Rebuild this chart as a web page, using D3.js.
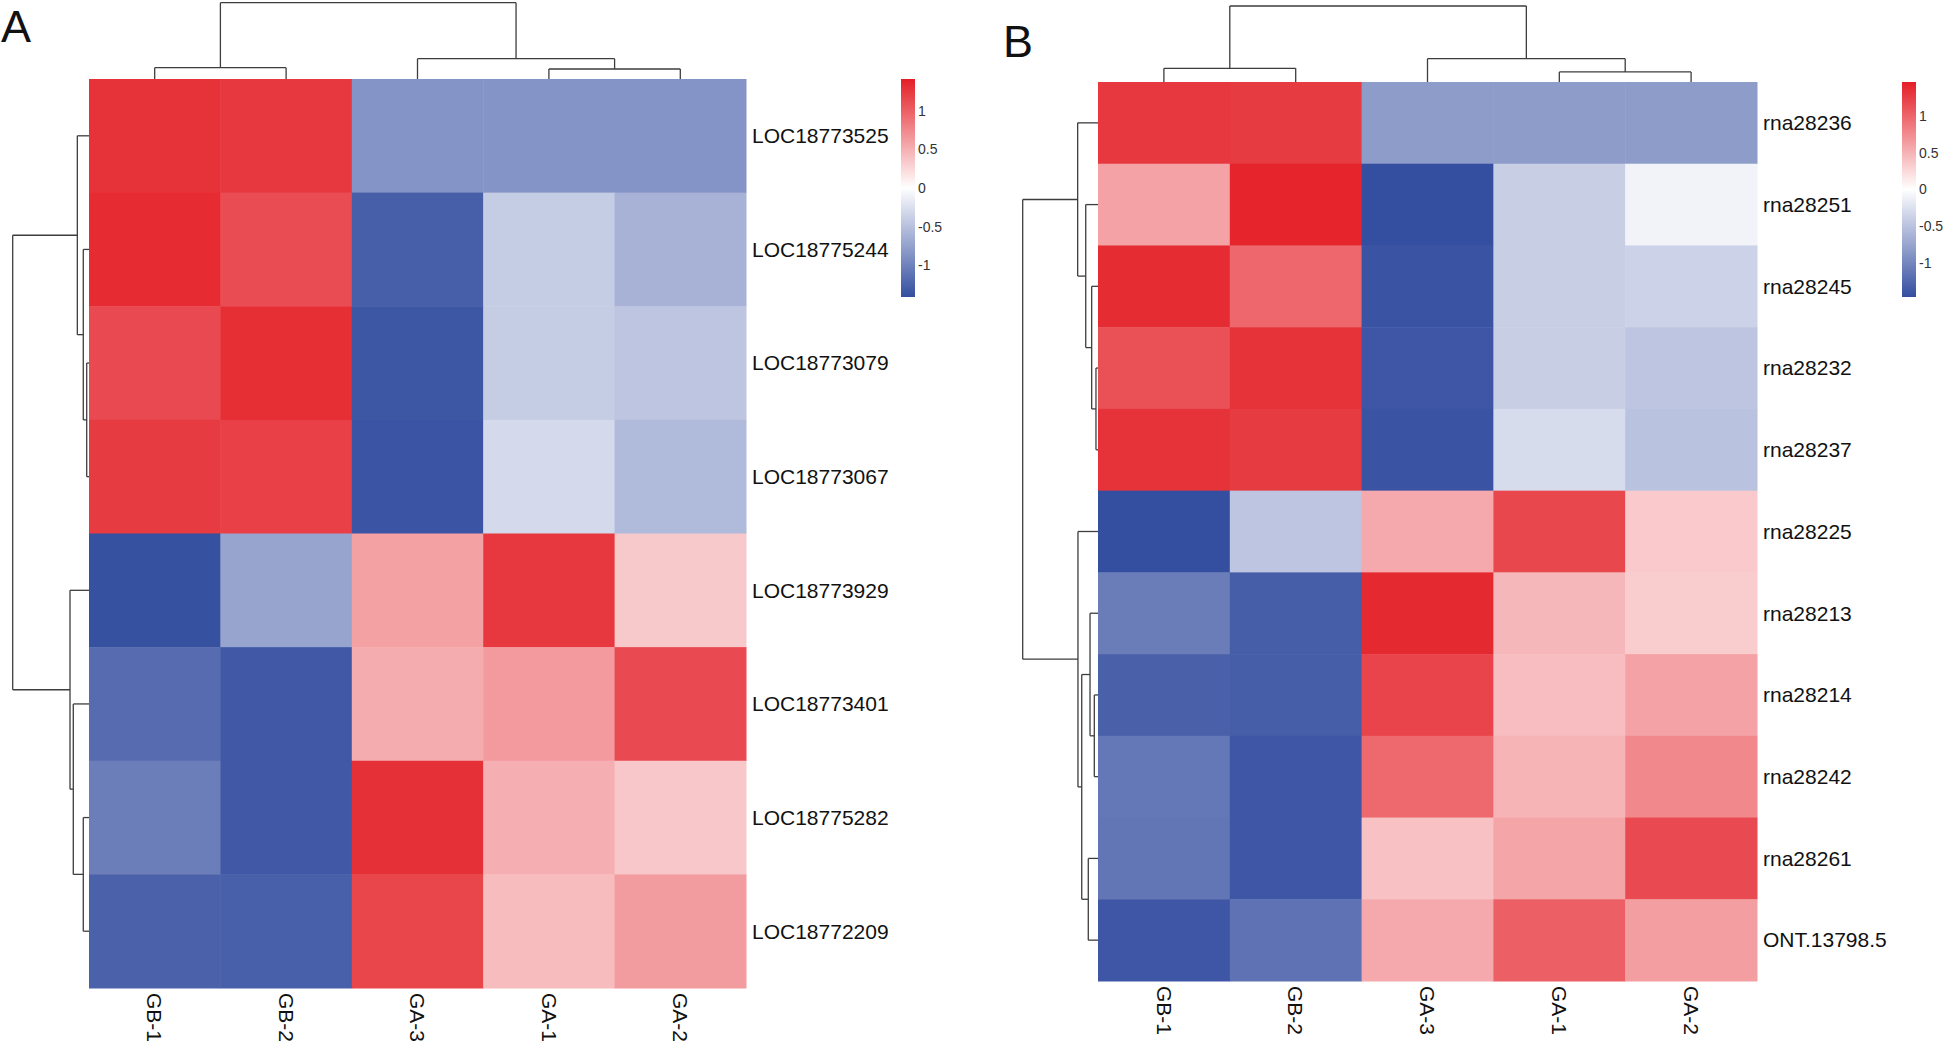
<!DOCTYPE html>
<html>
<head>
<meta charset="utf-8">
<script src="https://cdn.jsdelivr.net/npm/d3@7"></script>
<style>
  html, body { margin: 0; padding: 0; background: #ffffff; }
  svg { display: block; }
  text { font-family: "Liberation Sans", Arial, sans-serif; }
</style>
</head>
<body>
<svg id="chart" width="1946" height="1043"></svg>
<script>
// ---------------- DATA ----------------
const colsA = ["GB-1", "GB-2", "GA-3", "GA-1", "GA-2"];
const rowsA = ["LOC18773525", "LOC18775244", "LOC18773079", "LOC18773067",
               "LOC18773929", "LOC18773401", "LOC18775282", "LOC18772209"];
const valuesA = [
  [ 1.28,  1.25, -0.85, -0.85, -0.85],
  [ 1.33,  1.12, -1.28, -0.40, -0.61],
  [ 1.14,  1.31, -1.34, -0.40, -0.46],
  [ 1.23,  1.20, -1.36, -0.30, -0.55],
  [-1.39, -0.72,  0.59,  1.25,  0.34],
  [-1.17, -1.33,  0.52,  0.63,  1.14],
  [-1.03, -1.33,  1.30,  0.50,  0.35],
  [-1.25, -1.27,  1.16,  0.42,  0.62]
];
const colsB = ["GB-1", "GB-2", "GA-3", "GA-1", "GA-2"];
const rowsB = ["rna28236", "rna28251", "rna28245", "rna28232", "rna28237",
               "rna28225", "rna28213", "rna28214", "rna28242", "rna28261", "ONT.13798.5"];
const valuesB = [
  [ 1.30,  1.28, -0.82, -0.82, -0.82],
  [ 0.61,  1.43, -1.47, -0.40, -0.10],
  [ 1.38,  0.99, -1.43, -0.40, -0.37],
  [ 1.14,  1.34, -1.40, -0.40, -0.48],
  [ 1.34,  1.28, -1.43, -0.29, -0.51],
  [-1.47, -0.48,  0.56,  1.20,  0.35],
  [-1.08, -1.34,  1.40,  0.47,  0.33],
  [-1.31, -1.34,  1.22,  0.43,  0.61],
  [-1.12, -1.40,  0.98,  0.49,  0.78],
  [-1.14, -1.40,  0.40,  0.59,  1.18],
  [-1.40, -1.16,  0.56,  1.04,  0.63]
];
const legendTicks = [-1, -0.5, 0, 0.5, 1];
const legendTickLabels = ["-1", "-0.5", "0", "0.5", "1"];
const legendLimitA = 1.41;
const legendLimitB = 1.47;
// dendrograms (h = merge height, relative; c = children, numbers = leaf indices)
const colTreeA = {h: 1.0, c: [{h: 0.148, c: [0, 1]}, {h: 0.266, c: [2, {h: 0.131, c: [3, 4]}]}]};
const rowTreeA = {h: 1.0, c: [
  {h: 0.153, c: [0, {h: 0.075, c: [1, {h: 0.030, c: [2, 3]}]}]},
  {h: 0.249, c: [4, {h: 0.206, c: [5, {h: 0.075, c: [6, 7]}]}]}
]};
const colTreeB = {h: 1.0, c: [{h: 0.180, c: [0, 1]}, {h: 0.307, c: [2, {h: 0.132, c: [3, 4]}]}]};
const rowTreeB = {h: 1.0, c: [
  {h: 0.270, c: [0, {h: 0.163, c: [1, {h: 0.084, c: [2, {h: 0.027, c: [3, 4]}]}]}]},
  {h: 0.266, c: [5, {h: 0.216, c: [
      {h: 0.106, c: [6, {h: 0.049, c: [7, 8]}]},
      {h: 0.129, c: [9, 10]}
  ]}]}
]};

// ---------------- DRAW ----------------
const svg = d3.select("#chart");
const BLUE = "#344ea0", RED = "#e41e26";

function drawTree(g, node, leafPos, hScale, orient) {
  if (typeof node === "number") return {p: leafPos(node), h: 0};
  const kids = node.c.map(k => drawTree(g, k, leafPos, hScale, orient));
  const hy = hScale(node.h);
  kids.forEach(k => {
    const a = hScale(k.h);
    if (orient === "top") g.append("line").attr("x1", k.p).attr("x2", k.p).attr("y1", a).attr("y2", hy);
    else g.append("line").attr("y1", k.p).attr("y2", k.p).attr("x1", a).attr("x2", hy);
  });
  if (orient === "top") g.append("line").attr("x1", kids[0].p).attr("x2", kids[1].p).attr("y1", hy).attr("y2", hy);
  else g.append("line").attr("y1", kids[0].p).attr("y2", kids[1].p).attr("x1", hy).attr("x2", hy);
  return {p: (kids[0].p + kids[1].p) / 2, h: node.h};
}

function panel(cfg) {
  const {cols, rows, values, lim, x0, x1, y0, y1, colTree, rowTree, colD, rowD, legX, legY0, legY1, letter, letterX, letterY, id} = cfg;
  const g = svg.append("g");
  const x = d3.scaleBand().domain(d3.range(cols.length)).range([x0, x1]);
  const y = d3.scaleBand().domain(d3.range(rows.length)).range([y0, y1]);
  const color = d3.scaleLinear().domain([-lim, 0, lim]).range([BLUE, "#ffffff", RED]).clamp(true);

  // cells
  const cells = [];
  values.forEach((r, i) => r.forEach((v, j) => cells.push({i, j, v})));
  g.append("g").selectAll("rect").data(cells).join("rect")
    .attr("x", d => x(d.j)).attr("y", d => y(d.i))
    .attr("width", x.bandwidth() + 0.5).attr("height", y.bandwidth() + 0.5)
    .attr("fill", d => color(d.v));

  // row labels
  g.append("g").selectAll("text").data(rows).join("text")
    .attr("x", x1 + 6).attr("y", (d, i) => y(i) + y.bandwidth() / 2)
    .attr("dy", "0.35em").attr("font-size", 21).attr("fill", "#111").text(d => d);

  // column labels (rotated, reading top to bottom)
  g.append("g").selectAll("text").data(cols).join("text")
    .attr("transform", (d, j) => `translate(${x(j) + x.bandwidth() / 2},${y1 + 5}) rotate(90)`)
    .attr("dy", "0.35em").attr("font-size", 21).attr("fill", "#111").text(d => d);

  // dendrograms
  const tg = g.append("g").attr("stroke", "#3d3d3d").attr("stroke-width", 1.3).attr("fill", "none");
  const hCol = d3.scaleLinear().domain([0, colTree.h]).range([y0, y0 - colD]);
  drawTree(tg, colTree, j => x(j) + x.bandwidth() / 2, hCol, "top");
  const hRow = d3.scaleLinear().domain([0, rowTree.h]).range([x0, x0 - rowD]);
  drawTree(tg, rowTree, i => y(i) + y.bandwidth() / 2, hRow, "left");

  // legend
  const defs = svg.append("defs");
  const grad = defs.append("linearGradient").attr("id", "grad" + id)
    .attr("x1", 0).attr("y1", 1).attr("x2", 0).attr("y2", 0);
  d3.range(0, 1.0001, 0.05).forEach(t => {
    grad.append("stop").attr("offset", t).attr("stop-color", color(-lim + 2 * lim * t));
  });
  g.append("rect").attr("x", legX).attr("y", legY0).attr("width", 14).attr("height", legY1 - legY0)
    .attr("fill", `url(#grad${id})`);
  const ly = d3.scaleLinear().domain([-lim, lim]).range([legY1, legY0]);
  g.append("g").selectAll("text").data(legendTicks).join("text")
    .attr("x", legX + 17).attr("y", d => ly(d)).attr("dy", "0.35em")
    .attr("font-size", 14).attr("fill", "#333").text((d, i) => legendTickLabels[i]);

  // panel letter
  g.append("text").attr("x", letterX).attr("y", letterY).attr("font-size", 45)
    .attr("fill", "#111").text(letter);
}

panel({cols: colsA, rows: rowsA, values: valuesA, lim: legendLimitA,
  x0: 89, x1: 746, y0: 79, y1: 988, colTree: colTreeA, rowTree: rowTreeA,
  colD: 76.3, rowD: 76.3, legX: 901, legY0: 79, legY1: 297,
  letter: "A", letterX: 1, letterY: 42, id: "A"});

panel({cols: colsB, rows: rowsB, values: valuesB, lim: legendLimitB,
  x0: 1098, x1: 1757, y0: 82, y1: 981, colTree: colTreeB, rowTree: rowTreeB,
  colD: 76, rowD: 75.3, legX: 1902, legY0: 82, legY1: 297,
  letter: "B", letterX: 1003, letterY: 57, id: "B"});
</script>
</body>
</html>
